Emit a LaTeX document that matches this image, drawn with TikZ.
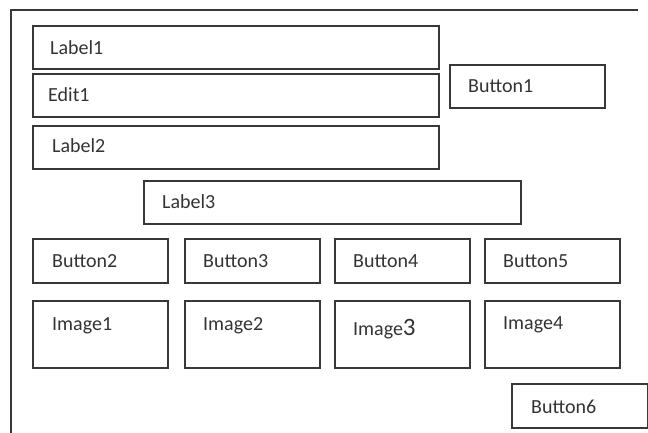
\documentclass[tikz,border=0pt]{standalone}
\usepackage{fontspec}
\setmainfont{Carlito}
\begin{document}
\begin{tikzpicture}[x=1pt,y=-1pt,
  line color/.style={draw=black!78},
  box/.style={line color, line width=1.8pt, rectangle, inner sep=0pt, anchor=north west},
  txt/.style={anchor=base west, inner sep=0pt, text=black!80, font=\fontsize{20}{24}\selectfont},
  frame/.style={line color, line width=1.8pt}]
\useasboundingbox (0,0) rectangle (648,433);
% outer frame
\coordinate (ftr) at (638,10);
\coordinate (ftl) at (11,10);
\coordinate (fbl) at (11,433);
\draw[frame] (ftr) -- (ftl) -- (fbl);
% boxes
\node[box, minimum width=406, minimum height=43] (label1) at (32,25) {};
\node[box, minimum width=406, minimum height=43] (edit1) at (32,73) {};
\node[box, minimum width=155, minimum height=43] (button1) at (449,64) {};
\node[box, minimum width=406, minimum height=43] (label2) at (32,125) {};
\node[box, minimum width=377, minimum height=43] (label3) at (143,180) {};
\node[box, minimum width=135, minimum height=44] (button2) at (32,238) {};
\node[box, minimum width=135, minimum height=44] (button3) at (184,238) {};
\node[box, minimum width=135, minimum height=44] (button4) at (334,238) {};
\node[box, minimum width=135, minimum height=44] (button5) at (484,238) {};
\node[box, minimum width=135, minimum height=67] (image1) at (32,300) {};
\node[box, minimum width=135, minimum height=67] (image2) at (184,300) {};
\node[box, minimum width=135, minimum height=67] (image3) at (334,300) {};
\node[box, minimum width=135, minimum height=67] (image4) at (484,300) {};
\node[box, minimum width=136, minimum height=44] (button6) at (511,383) {};
% texts
\node[txt] (tlabel1) at (50,55) {Label1};
\node[txt] (tedit1) at (48,102) {Edit1};
\node[txt] (tbutton1) at (468,93) {Button1};
\node[txt] (tlabel2) at (52,153) {Label2};
\node[txt] (tlabel3) at (162,208) {Label3};
\node[txt] (tbutton2) at (52,267) {Button2};
\node[txt] (tbutton3) at (203,267) {Button3};
\node[txt] (tbutton4) at (353,267) {Button4};
\node[txt] (tbutton5) at (503,267) {Button5};
\node[txt] (timage1) at (52,330) {Image1};
\node[txt] (timage2) at (203,330) {Image2};
\node[txt] (timage3) at (353,335) {Image{\fontsize{25}{28}\selectfont 3}};
\node[txt] (timage4) at (503,329) {Image4};
\node[txt] (tbutton6) at (531,413) {Button6};
\end{tikzpicture}
\end{document}
